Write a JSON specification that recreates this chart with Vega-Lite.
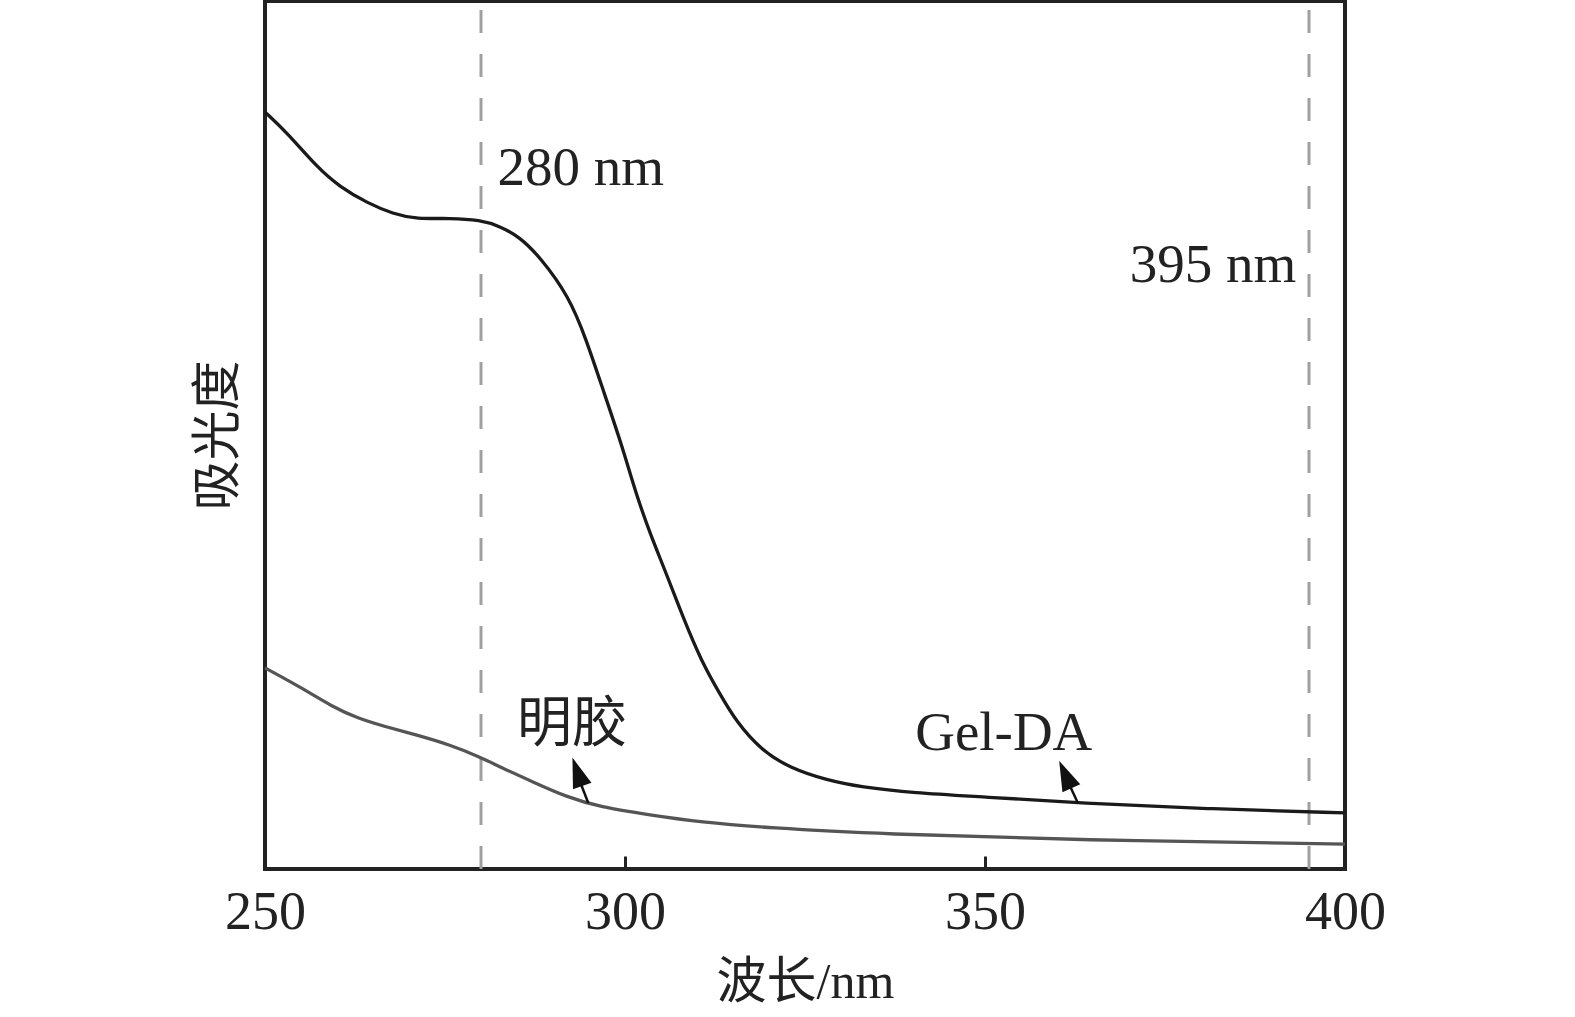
{
  "$schema": "https://vega.github.io/schema/vega-lite/v6.json",
  "autosize": {"type": "none"},
  "width": 1080,
  "height": 868,
  "padding": {"left": 265, "top": 1, "right": 230, "bottom": 148},
  "background": "white",
  "config": {
    "view": {"stroke": "#222222", "strokeWidth": 4},
    "font": "Liberation Serif"
  },
  "datasets": {
    "spectra": [
      {"wl": 250.0, "abs": 2.616, "sample": "Gel-DA"},
      {"wl": 253.1, "abs": 2.544, "sample": "Gel-DA"},
      {"wl": 257.2, "abs": 2.426, "sample": "Gel-DA"},
      {"wl": 260.4, "abs": 2.357, "sample": "Gel-DA"},
      {"wl": 264.2, "abs": 2.302, "sample": "Gel-DA"},
      {"wl": 267.8, "abs": 2.264, "sample": "Gel-DA"},
      {"wl": 271.1, "abs": 2.246, "sample": "Gel-DA"},
      {"wl": 275.7, "abs": 2.250, "sample": "Gel-DA"},
      {"wl": 279.9, "abs": 2.243, "sample": "Gel-DA"},
      {"wl": 282.6, "abs": 2.222, "sample": "Gel-DA"},
      {"wl": 285.4, "abs": 2.184, "sample": "Gel-DA"},
      {"wl": 288.2, "abs": 2.115, "sample": "Gel-DA"},
      {"wl": 292.2, "abs": 1.980, "sample": "Gel-DA"},
      {"wl": 294.6, "abs": 1.832, "sample": "Gel-DA"},
      {"wl": 297.1, "abs": 1.645, "sample": "Gel-DA"},
      {"wl": 299.6, "abs": 1.462, "sample": "Gel-DA"},
      {"wl": 301.5, "abs": 1.299, "sample": "Gel-DA"},
      {"wl": 303.6, "abs": 1.151, "sample": "Gel-DA"},
      {"wl": 305.6, "abs": 1.030, "sample": "Gel-DA"},
      {"wl": 308.1, "abs": 0.867, "sample": "Gel-DA"},
      {"wl": 310.6, "abs": 0.719, "sample": "Gel-DA"},
      {"wl": 313.1, "abs": 0.608, "sample": "Gel-DA"},
      {"wl": 315.4, "abs": 0.511, "sample": "Gel-DA"},
      {"wl": 318.9, "abs": 0.411, "sample": "Gel-DA"},
      {"wl": 322.9, "abs": 0.349, "sample": "Gel-DA"},
      {"wl": 327.9, "abs": 0.308, "sample": "Gel-DA"},
      {"wl": 332.8, "abs": 0.283, "sample": "Gel-DA"},
      {"wl": 340.0, "abs": 0.263, "sample": "Gel-DA"},
      {"wl": 350.0, "abs": 0.249, "sample": "Gel-DA"},
      {"wl": 363.2, "abs": 0.228, "sample": "Gel-DA"},
      {"wl": 381.7, "abs": 0.207, "sample": "Gel-DA"},
      {"wl": 400.0, "abs": 0.194, "sample": "Gel-DA"},
      {"wl": 250.0, "abs": 0.695, "sample": "明胶"},
      {"wl": 254.9, "abs": 0.629, "sample": "明胶"},
      {"wl": 259.4, "abs": 0.560, "sample": "明胶"},
      {"wl": 262.8, "abs": 0.522, "sample": "明胶"},
      {"wl": 266.4, "abs": 0.494, "sample": "明胶"},
      {"wl": 271.1, "abs": 0.463, "sample": "明胶"},
      {"wl": 275.7, "abs": 0.429, "sample": "明胶"},
      {"wl": 279.9, "abs": 0.387, "sample": "明胶"},
      {"wl": 282.6, "abs": 0.353, "sample": "明胶"},
      {"wl": 287.2, "abs": 0.301, "sample": "明胶"},
      {"wl": 291.9, "abs": 0.249, "sample": "明胶"},
      {"wl": 296.5, "abs": 0.214, "sample": "明胶"},
      {"wl": 303.5, "abs": 0.187, "sample": "明胶"},
      {"wl": 310.4, "abs": 0.162, "sample": "明胶"},
      {"wl": 320.0, "abs": 0.142, "sample": "明胶"},
      {"wl": 335.4, "abs": 0.121, "sample": "明胶"},
      {"wl": 363.2, "abs": 0.100, "sample": "明胶"},
      {"wl": 400.0, "abs": 0.086, "sample": "明胶"}
    ],
    "markers": [
      {"wl": 280},
      {"wl": 395}
    ],
    "arrows": [
      {"label": "明胶", "wl": 294.9, "abs": 0.228, "wl2": 293.0, "abs2": 0.350},
      {"label": "Gel-DA", "wl": 362.9, "abs": 0.228, "wl2": 360.8, "abs2": 0.340}
    ],
    "arrowtips": [
      {"label": "明胶", "wl": 292.7, "abs": 0.385},
      {"label": "Gel-DA", "wl": 360.3, "abs": 0.374}
    ],
    "labels": [
      {"wl": 282.3, "abs": 2.364, "text": "280 nm"},
      {"wl": 370.1, "abs": 2.029, "text": "395 nm"},
      {"wl": 285.0, "abs": 0.442, "text": "明胶"},
      {"wl": 340.3, "abs": 0.411, "text": "Gel-DA"}
    ]
  },
  "layer": [
    {
      "data": {"name": "markers"},
      "mark": {"type": "rule", "color": "#a0a0a0", "strokeWidth": 3, "strokeDash": [23, 21], "strokeDashOffset": 35},
      "encoding": {
        "x": {"field": "wl", "type": "quantitative", "scale": {"domain": [250, 400], "nice": false}}
      }
    },
    {
      "data": {"name": "spectra"},
      "mark": {"type": "line", "strokeWidth": 3.3, "interpolate": "basis"},
      "encoding": {
        "x": {
          "field": "wl",
          "type": "quantitative",
          "scale": {"domain": [250, 400], "nice": false},
          "axis": {
            "values": [250, 300, 350, 400],
            "tickSize": -13,
            "tickWidth": 3,
            "tickColor": "#222222",
            "domain": false,
            "grid": false,
            "labelFont": "Liberation Serif",
            "labelFontSize": 54,
            "labelColor": "#222222",
            "labelPadding": 29,
            "labelFlush": false,
            "title": "波长/nm",
            "titleFont": "Liberation Serif, Noto Sans CJK SC",
            "titleFontSize": 50,
            "titleFontWeight": "normal",
            "titleColor": "#222222",
            "titlePadding": 18
          }
        },
        "y": {
          "field": "abs",
          "type": "quantitative",
          "scale": {"domain": [0, 3], "nice": false},
          "axis": {
            "domain": false,
            "ticks": false,
            "labels": false,
            "grid": false,
            "title": "吸光度",
            "titleFont": "Liberation Serif, Noto Sans CJK SC",
            "titleFontSize": 50,
            "titleFontWeight": "normal",
            "titleColor": "#222222",
            "titlePadding": 22
          }
        },
        "color": {
          "field": "sample",
          "type": "nominal",
          "scale": {"domain": ["Gel-DA", "明胶"], "range": ["#1a1a1a", "#555555"]},
          "legend": null
        },
        "detail": {"field": "sample"}
      }
    },
    {
      "data": {"name": "arrows"},
      "mark": {"type": "rule", "color": "#111111", "strokeWidth": 2.5},
      "encoding": {
        "x": {"field": "wl", "type": "quantitative"},
        "y": {"field": "abs", "type": "quantitative"},
        "x2": {"field": "wl2"},
        "y2": {"field": "abs2"}
      }
    },
    {
      "data": {"name": "arrowtips"},
      "mark": {"type": "point", "shape": "M0,0L0.65,2L-0.65,2Z", "filled": true, "color": "#111111", "size": 900, "opacity": 1},
      "encoding": {
        "x": {"field": "wl", "type": "quantitative"},
        "y": {"field": "abs", "type": "quantitative"},
        "angle": {
          "field": "label",
          "type": "nominal",
          "scale": {"domain": ["明胶", "Gel-DA"], "range": [341, 336]},
          "legend": null
        }
      }
    },
    {
      "data": {"name": "labels"},
      "mark": {"type": "text", "align": "left", "baseline": "alphabetic", "font": "Liberation Serif, Noto Sans CJK SC", "fontSize": 55, "color": "#222222"},
      "encoding": {
        "x": {"field": "wl", "type": "quantitative"},
        "y": {"field": "abs", "type": "quantitative"},
        "text": {"field": "text"}
      }
    }
  ]
}
